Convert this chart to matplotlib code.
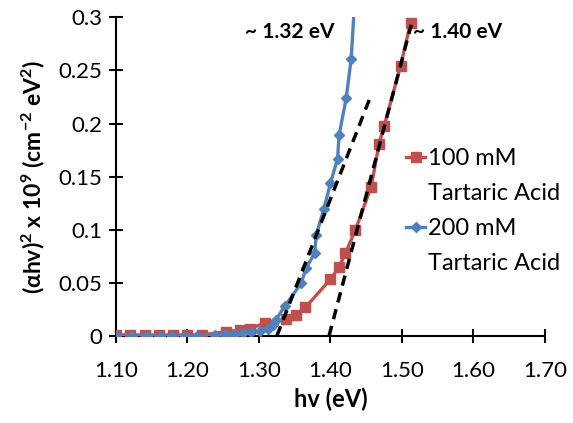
import matplotlib
matplotlib.use("Agg")
import matplotlib.pyplot as plt
from matplotlib.lines import Line2D

plt.rcParams['font.family'] = ['Lato', 'DejaVu Sans']
plt.rcParams['mathtext.default'] = 'regular'

# Data
red_x = [1.10, 1.12, 1.14, 1.16, 1.18, 1.20, 1.22, 1.254, 1.273, 1.287, 1.308, 1.338,
         1.352, 1.365, 1.400, 1.412, 1.421, 1.435, 1.457, 1.468, 1.475, 1.498, 1.512]
red_y = [0.001, 0.001, 0.001, 0.001, 0.001, 0.001, 0.001, 0.004, 0.0056, 0.007, 0.012, 0.0157,
         0.0198, 0.027, 0.0533, 0.065, 0.078, 0.100, 0.1405, 0.181, 0.1975, 0.254, 0.2947]
blue_x = [1.100, 1.122, 1.143, 1.161, 1.178, 1.196, 1.213, 1.238, 1.252, 1.266, 1.278, 1.289,
          1.301, 1.313, 1.320, 1.3235, 1.336, 1.359, 1.366, 1.378, 1.380, 1.391, 1.400,
          1.410, 1.412, 1.422, 1.429, 1.436]
blue_y = [0.0, 0.0, 0.0, 0.0, 0.0, 0.0, 0.0, 0.001, 0.002, 0.002, 0.003, 0.004,
          0.005, 0.007, 0.010, 0.015, 0.028, 0.0496, 0.064, 0.078, 0.095, 0.120, 0.144,
          0.167, 0.189, 0.2236, 0.261, 0.340]
fit_blue_x = [1.325, 1.457]
fit_blue_y = [0.0, 0.227]
fit_red_x = [1.398, 1.513]
fit_red_y = [0.0, 0.293]
xticks = [1.10, 1.20, 1.30, 1.40, 1.50, 1.60, 1.70]
yticks = [0, 0.05, 0.1, 0.15, 0.2, 0.25, 0.3]
ytick_labels = ["0", "0.05", "0.1", "0.15", "0.2", "0.25", "0.3"]

fig = plt.figure(figsize=(5.73, 4.23), dpi=100)
ax = fig.add_axes([0.2024, 0.2057, 0.7486, 0.7533])

red = '#C0504D'
blue = '#4F81BD'
l_red, = ax.plot(red_x, red_y, color=red, lw=2.4, marker='s', ms=7, zorder=3)
l_blue, = ax.plot(blue_x, blue_y, color=blue, lw=2.4, marker='D', ms=5.5, zorder=4)
ax.plot(fit_blue_x, fit_blue_y, color='black', lw=2.5, ls=(0, (3, 2)), zorder=5)
ax.plot(fit_red_x, fit_red_y, color='black', lw=2.5, ls=(0, (3, 2)), zorder=5)

ax.set_xlim(1.10, 1.70)
ax.set_ylim(0, 0.3)
ax.set_xticks(xticks)
ax.set_xticklabels([f"{v:.2f}" for v in xticks])
ax.set_yticks(yticks)
ax.set_yticklabels(ytick_labels)
for s in ['top', 'right']:
    ax.spines[s].set_visible(False)
for s in ['left', 'bottom']:
    ax.spines[s].set_linewidth(1.5)
ax.tick_params(direction='inout', length=10, width=1.5, labelsize=16, colors='black', pad=5)
ax.tick_params(axis='x', pad=13)

ax.set_xlabel('hv (eV)', fontsize=17, fontweight='bold', labelpad=5)
ax.set_ylabel('(αhv)$^{2}$ x 10$^{9}$ (cm$^{-2}$ eV$^{2}$)', fontsize=16.5, fontweight='bold', labelpad=8)

ax.text(1.343, 0.286, '~ 1.32 eV', fontsize=15, fontweight='bold', ha='center', va='center')
ax.text(1.515, 0.286, '~ 1.40 eV', fontsize=15, fontweight='bold', ha='left', va='center')

blank = Line2D([], [], linestyle='none', marker=None)
handles = [l_red, blank, l_blue, blank]
labels = ['100 mM', 'Tartaric Acid', '200 mM', 'Tartaric Acid']
leg = ax.legend(handles, labels, loc='upper left', bbox_to_anchor=(0.655, 0.62), frameon=False,
                fontsize=17, handlelength=0.8, handletextpad=0.1, labelspacing=0.6, borderaxespad=0)

fig.savefig('out.png', dpi=100)
